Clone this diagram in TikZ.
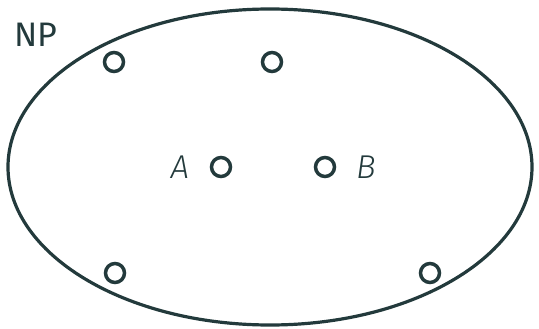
\documentclass[tikz,border=0pt]{standalone}
\usepackage{fontspec}
\setmainfont{Fira Sans}
\newfontfamily\firalight{Fira Sans Light}
\definecolor{ink}{HTML}{233A3C}
\begin{document}
\begin{tikzpicture}[x=1pt,y=-1pt,
  pt/.style={circle,draw=ink,line width=3.5pt,minimum size=19pt,inner sep=0pt},
  lbl/.style={text=ink,font=\firalight\itshape\fontsize{33}{36}\selectfont,inner sep=0pt}]
\useasboundingbox (0,0) rectangle (539,329);
\draw[ink,line width=3.2pt] (270,167) ellipse [x radius=262,y radius=158];
\node[text=ink,font=\fontsize{34}{38}\selectfont,inner sep=0pt,anchor=base] (np) at (36,47) {NP};
\node[pt] (p1) at (114,62) {};
\node[pt] (p2) at (272,62) {};
\node[pt] (a) at (221,167) {};
\node[pt] (b) at (325,167) {};
\node[pt] (p5) at (115,273) {};
\node[pt] (p6) at (430,273) {};
\node[lbl] (la) at (180,167) {A};
\node[lbl] (lb) at (366,167) {B};
\end{tikzpicture}
\end{document}
